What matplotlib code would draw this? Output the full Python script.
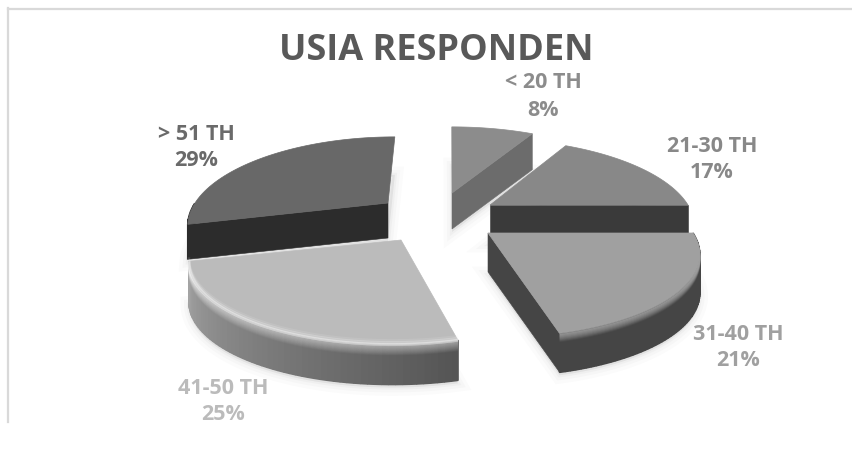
import numpy as np
import matplotlib
matplotlib.use('Agg')
import matplotlib.pyplot as plt
from matplotlib.patches import Polygon

plt.rcParams['font.family'] = ['Open Sans', 'DejaVu Sans']

# Data
kategori = ['< 20 TH', '21-30 TH', '31-40 TH', '41-50 TH', '> 51 TH']
persen = [8, 17, 21, 25, 29]
judul = 'USIA RESPONDEN'

# Layout per slice, in pixels: apex of the top face, radius, wall height
apex_x = [452, 490, 488, 401, 388]
apex_y = [193, 205, 233, 240, 203]
rad_x = [200, 198, 205, 205, 193]
tebal = [36, 36, 39, 40, 35]
rad_y = 81
persp = 0.225
shear = 0.6
vanish_x = 450

warna_atas = ['#8c8c8c', '#888888', '#a0a0a0', '#bbbbbb', '#686868']
warna_sisi = ['#6c6c6c', '#3a3a3a', '#454545', '#555555', '#2c2c2c']
warna_rim = [(0.42, 0.42), (0.23, 0.23), (0.27, 0.27), (0.33, 0.64), (0.17, 0.17)]
warna_label = ['#8c8c8c', '#888888', '#a0a0a0', '#bbbbbb', '#6a6a6a']
label_xy = [(543, 83), (712, 146), (738, 334), (223, 388), (196, 134)]

fig = plt.figure(figsize=(8.53, 4.5), dpi=100)
ax = fig.add_axes([0, 0, 1, 1])
ax.set_xlim(0, 853)
ax.set_ylim(450, 0)
ax.axis('off')


def titik(i, theta, r=1.0):
    """Project a rim point of slice i to pixels."""
    c = np.cos(theta) * r
    s = 1 / (1 + persp * c)
    x = apex_x[i] + rad_x[i] * np.sin(theta) * r * s + shear * (apex_x[i] - vanish_x) * (s - 1)
    y = apex_y[i] - rad_y * c * s
    return x, y


# Slice angles come from the values, clockwise from the top
batas = np.radians(np.concatenate([[0], np.cumsum(persen)]) * 3.6)

# Soft shadows first
for i in range(len(persen)):
    th = np.linspace(batas[i], batas[i + 1], 60)
    xs, ys = titik(i, th)
    pts = np.column_stack([np.r_[apex_x[i], xs], np.r_[apex_y[i], ys] + tebal[i] + 3])
    for lw, a in [(12, 0.03), (7, 0.04), (3, 0.05)]:
        ax.add_patch(Polygon(pts, closed=True, fc='#808080', ec='#808080', lw=lw, alpha=a, zorder=1))

urutan = [4, 0, 1, 2, 3]
for n, i in enumerate(urutan):
    z = 2 + n
    t1, t2 = batas[i], batas[i + 1]
    t = tebal[i]

    # outer wall, only the part facing the viewer
    th = np.linspace(t1, t2, 60)
    for a, b in zip(th[:-1], th[1:]):
        if np.cos((a + b) / 2) >= 0:
            continue
        f = ((a + b) / 2 - t1) / (t2 - t1)
        g = warna_rim[i][0] + (warna_rim[i][1] - warna_rim[i][0]) * f
        xa, ya = titik(i, a)
        xb, yb = titik(i, b)
        ax.add_patch(Polygon([(xa, ya), (xb, yb), (xb, yb + t), (xa, ya + t)], closed=True,
                             fc=str(g), ec=str(g), lw=1.2, joinstyle='bevel', zorder=z))

    # cut faces
    for sudut, tampak in [(t1, np.sin(t1) < -1e-6), (t2, np.sin(t2) > 1e-6)]:
        if tampak:
            xe, ye = titik(i, sudut)
            ax.add_patch(Polygon([(apex_x[i], apex_y[i]), (xe, ye), (xe, ye + t),
                                  (apex_x[i], apex_y[i] + t)], closed=True,
                                 fc=warna_sisi[i], ec=warna_sisi[i], lw=0.4, zorder=z))

    # bevel along the rim of the two front slices, fading into the wall
    xs, ys = titik(i, th)
    if i == 3:
        for off in np.arange(10, 0, -1):
            ax.plot(xs, ys + off, color='white', lw=1.2, alpha=0.34 - 0.03 * off, zorder=z, solid_capstyle='butt')
    if i == 2:
        for off in np.arange(8, 0, -1):
            ax.plot(xs, ys + off, color='#a0a0a0', lw=1.2, alpha=0.8 - 0.09 * off, zorder=z, solid_capstyle='butt')

    # top face
    ax.add_patch(Polygon(np.column_stack([np.r_[apex_x[i], xs], np.r_[apex_y[i], ys]]),
                         closed=True, fc=warna_atas[i], ec=warna_atas[i], lw=0.5, zorder=z))
    if i == 3:
        for off, al in [(0, 0.55), (-2, 0.3), (-4, 0.12)]:
            ax.plot(xs, ys + off, color='#f0f0f0', lw=2, alpha=al, zorder=z, solid_capstyle='butt')

# Chart frame, only top and left are in the crop
ax.plot([8, 853], [8.5, 8.5], color='#d9d9d9', lw=1.6, zorder=1)
ax.plot([8.5, 8.5], [8, 422], color='#d9d9d9', lw=1.6, zorder=1)

ax.text(436, 51, judul, ha='center', va='center', fontsize=26, fontweight='bold', color='#595959')

for i, nama in enumerate(kategori):
    x, y = label_xy[i]
    ax.text(x, y, nama, ha='center', va='center', fontsize=15.5, fontweight='bold', color=warna_label[i], zorder=10)
    ax.text(x, y + 27, f'{persen[i]}%', ha='center', va='center', fontsize=15.5,
            fontweight='bold', color=warna_label[i], zorder=10)

fig.savefig('out.png', dpi=100)
